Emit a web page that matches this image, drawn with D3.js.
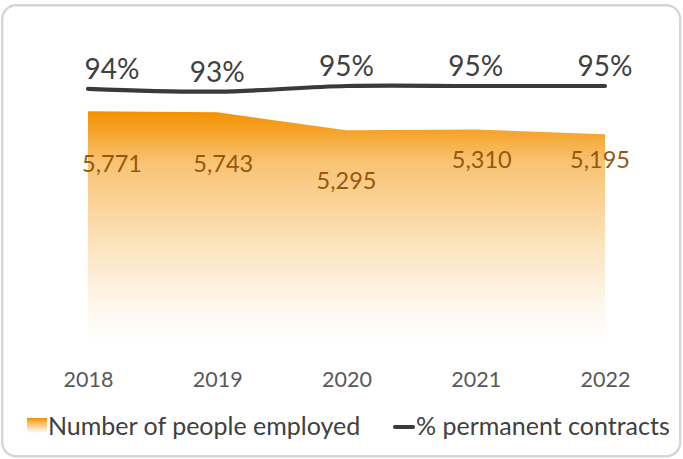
<!DOCTYPE html>
<html>
<head>
<meta charset="utf-8">
<script src="https://cdn.jsdelivr.net/npm/d3@7/dist/d3.min.js"></script>
<style>
  html, body { margin: 0; padding: 0; background: #ffffff; }
  svg { display: block; }
  text { font-family: "Lato", "Open Sans", sans-serif; font-weight: 400; }
</style>
</head>
<body>
<svg id="chart" width="683" height="459"></svg>
<script>
// Workforce figures per year
const years = ["2018", "2019", "2020", "2021", "2022"];
const employed = [5771, 5743, 5295, 5310, 5195];
const permanentPct = [94, 93, 95, 95, 95];
const seriesNames = ["Number of people employed", "% permanent contracts"];

// Hand-placed label nudges (dx, dy) so labels sit clear of the marks
const pctLabelNudge = [[24, 0], [0, 0], [0, 0], [0, 0], [0, 0]];
const numLabelNudge = [[24, 61], [6, 60], [0, 59], [6, 38], [-5, 34]];

const svg = d3.select("#chart");
const W = 683, H = 459;

// Rounded frame
svg.append("rect")
  .attr("x", 2.2).attr("y", 5.2)
  .attr("width", W - 5).attr("height", H - 8)
  .attr("rx", 14).attr("ry", 14)
  .attr("fill", "#ffffff")
  .attr("stroke", "#d6d6d6")
  .attr("stroke-width", 2.4);

const x = d3.scalePoint().domain(years).range([88, 605]);
const yEmp = d3.scaleLinear().domain([0, 6000]).range([342, 102]);
const yPct = d3.scaleLinear().domain([0, 100]).range([352, 72]);

const defs = svg.append("defs");
const grad = defs.append("linearGradient")
  .attr("id", "empFill")
  .attr("gradientUnits", "userSpaceOnUse")
  .attr("x1", 0).attr("x2", 0)
  .attr("y1", yEmp(d3.max(employed))).attr("y2", yEmp(0));
[[0, 1], [0.08, 0.85], [0.22, 0.55], [0.6, 0.24], [0.85, 0.07], [1, 0]].forEach(([o, a]) => {
  grad.append("stop").attr("offset", o).attr("stop-color", "#f39200").attr("stop-opacity", a);
});

const legGrad = defs.append("linearGradient")
  .attr("id", "legFill").attr("x1", 0).attr("x2", 0).attr("y1", 0).attr("y2", 1);
[[0, 1], [0.35, 0.6], [1, 0]].forEach(([o, a]) => {
  legGrad.append("stop").attr("offset", o).attr("stop-color", "#f39200").attr("stop-opacity", a);
});

const empData = years.map((yr, i) => ({ yr, v: employed[i] }));
const pctData = years.map((yr, i) => ({ yr, v: permanentPct[i] }));

// Employment area
svg.append("path")
  .datum(empData)
  .attr("fill", "url(#empFill)")
  .attr("d", d3.area()
    .x(d => x(d.yr))
    .y0(yEmp(0))
    .y1(d => yEmp(d.v)));

// Permanent-contract share line
svg.append("path")
  .datum(pctData)
  .attr("fill", "none")
  .attr("stroke", "#3a3a3a")
  .attr("stroke-width", 4.2)
  .attr("stroke-linecap", "round")
  .attr("d", d3.line()
    .x(d => x(d.yr))
    .y(d => yPct(d.v))
    .curve(d3.curveCatmullRom.alpha(0.5)));

// Percentage labels
svg.append("g").selectAll("text")
  .data(pctData)
  .join("text")
  .attr("x", (d, i) => x(d.yr) + pctLabelNudge[i][0])
  .attr("y", (d, i) => yPct(d.v) - 10 + pctLabelNudge[i][1])
  .attr("text-anchor", "middle")
  .attr("font-size", 28)
  .attr("fill", "#404040")
  .text(d => d.v + "%");

// Headcount labels
const fmt = d3.format(",");
svg.append("g").selectAll("text")
  .data(empData)
  .join("text")
  .attr("x", (d, i) => x(d.yr) + numLabelNudge[i][0])
  .attr("y", (d, i) => yEmp(d.v) + numLabelNudge[i][1])
  .attr("text-anchor", "middle")
  .attr("font-size", 23.5)
  .attr("fill", "#985709")
  .text(d => fmt(d.v));

// Year axis labels
const xAxis = d3.axisBottom(x).tickSize(0).tickPadding(0);
const axisG = svg.append("g").attr("transform", "translate(0,372)").call(xAxis);
axisG.select(".domain").remove();
axisG.selectAll("text")
  .attr("font-size", 21.5)
  .attr("fill", "#595959")
  .attr("font-family", "Lato, 'Open Sans', sans-serif")
  .attr("font-weight", 400)
  .attr("dy", "0.71em");

// Legend
const leg = svg.append("g");
leg.append("rect")
  .attr("x", 27).attr("y", 418).attr("width", 20).attr("height", 15)
  .attr("fill", "url(#legFill)");
leg.append("text")
  .attr("x", 48).attr("y", 435)
  .attr("font-size", 25)
  .attr("fill", "#404040")
  .text(seriesNames[0]);
leg.append("line")
  .attr("x1", 395).attr("x2", 413)
  .attr("y1", 427).attr("y2", 427)
  .attr("stroke", "#3a3a3a").attr("stroke-width", 4.2)
  .attr("stroke-linecap", "round");
leg.append("text")
  .attr("x", 416).attr("y", 435)
  .attr("font-size", 25)
  .attr("fill", "#404040")
  .text(seriesNames[1]);
</script>
</body>
</html>
